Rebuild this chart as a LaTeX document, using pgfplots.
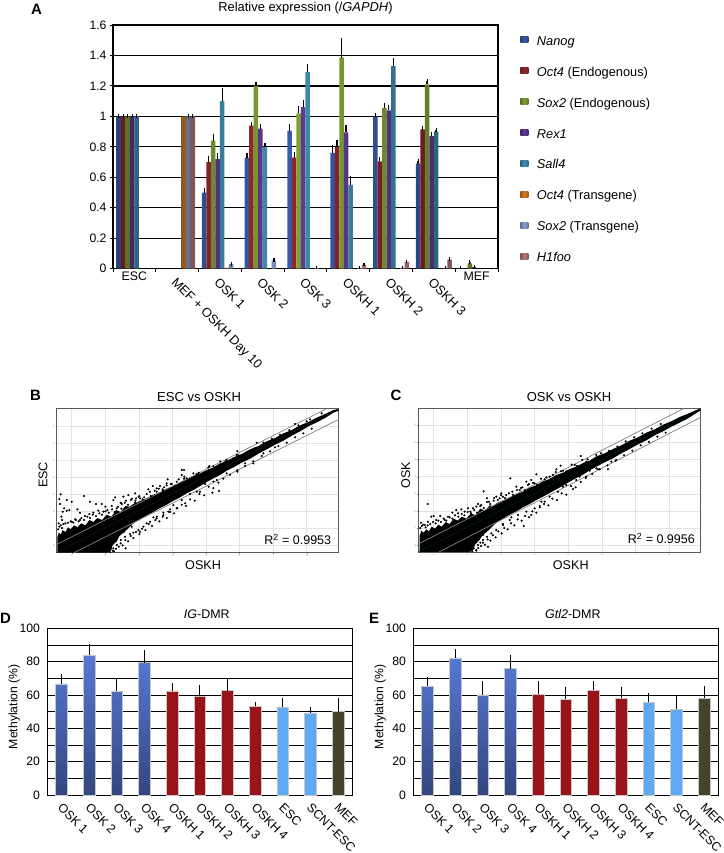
\documentclass[border=0pt]{standalone}
\usepackage{fontspec}
\setmainfont{Liberation Sans}
\usepackage{pgfplots}
\usepackage{pgfplotstable}
\pgfplotsset{compat=1.18}

\definecolor{cNanog}{HTML}{3A5BA8}
\definecolor{cOctE}{HTML}{96282C}
\definecolor{cSoxE}{HTML}{7FA233}
\definecolor{cRex}{HTML}{5E3A92}
\definecolor{cSall}{HTML}{3F8FB2}
\definecolor{cOctT}{HTML}{D87A22}
\definecolor{cSoxT}{HTML}{8A9FD2}
\definecolor{cH}{HTML}{B77C7C}
\definecolor{cOSKtop}{HTML}{5778D4}
\definecolor{cOSKbot}{HTML}{33467F}
\definecolor{cOSKH}{HTML}{991318}
\definecolor{cESC}{HTML}{5FAAF5}
\definecolor{cMEF}{HTML}{45442A}

\newcommand{\fs}[1]{\fontsize{#1}{#1}\selectfont}

% panel A, one row per sample, e* = upper error
\pgfplotstableread{
x Nanog eNanog OctE eOctE SoxE eSoxE Rex eRex Sall eSall OctT SoxT eSoxT H eH
0 1     0      1    0     1    0     1   0    1    0     nan  nan  0     nan 0
1 nan   0      nan  0     nan  0     nan 0    nan  0     1    1    0     1   0
2 0.50  0.02   0.70 0.025 0.84 0.035 0.72 0.025 1.10 0.075 0.005 0.03 0.002 nan 0
3 0.73  0.015  0.94 0.01  1.20 0.01  0.92 0.015 0.80 0.015 nan 0.055 0.002 nan 0
4 0.905 0.03   0.73 0.025 1.02 0.035 1.06 0.035 1.29 0.04 nan 0.005 0 nan 0
5 0.76  0.04   0.80 0.03  1.385 0.115 0.895 0.035 0.55 0.045 nan 0.005 0 0.025 0.002
6 1.00  0.01   0.705 0.015 1.055 0.02 1.04 0.025 1.33 0.04 nan 0.005 0 0.045 0.002
7 0.69  0.02   0.915 0.01 1.21 0.02 0.87 0.015 0.90 0.01 nan 0.005 0 0.06 0.002
8 0.003 0.003  nan  0     0.035 0.01 0.01 0.003 nan 0 nan nan 0 nan 0
}\exprtable

\pgfplotstableread{
x y e
0 66.6 5.2
1 83.8 5.6
2 62.2 7.2
3 79.4 6.6
}\igosk
\pgfplotstableread{
x y e
4 62.4 3.8
5 59.2 6.0
6 62.6 6.0
7 53.2 1.8
}\igoskh
\pgfplotstableread{
x y e
8 52.8 4.2
9 49.2 2.8
}\igesc
\pgfplotstableread{
x y e
10 50.0 7.4
}\igmef
\pgfplotstableread{
x y e
0 65.2 4.6
1 82.2 4.6
2 60.0 7.6
3 75.8 7.2
}\gtosk
\pgfplotstableread{
x y e
4 60.4 7.2
5 57.4 6.4
6 62.8 4.8
7 58.0 5.8
}\gtoskh
\pgfplotstableread{
x y e
8 55.6 4.4
9 51.4 7.0
}\gtesc
\pgfplotstableread{
x y e
10 58.2 6.2
}\gtmef

\pgfplotsset{
  every axis title shift=0pt,
  squarelegend/.style={legend image code/.code={\path[##1] (0pt,-0.5pt) rectangle (8pt,5.5pt);\path (16.5pt,0pt);}},
  exprbar/.style={squarelegend, draw=none, left color=#1!70!black, right color=#1!70!black, middle color=#1,
    error bars/.cd, y dir=plus, y explicit, error mark=-,
    error bar style={black, line width=1.3pt},
    error mark options={black, line width=1.1pt, mark size=1.9pt}},
  methbar/.style={ybar, bar width=11.7pt, bar shift=0pt, draw=gray!45, line width=.5pt, #1,
    error bars/.cd, y dir=plus, y explicit, error mark=-,
    error bar style={black, line width=.9pt},
    error mark options={black, line width=.8pt, mark size=1.5pt}},
  methaxis/.style={
    scale only axis, width=304.3pt, height=166.7pt,
    xmin=-0.5, xmax=10.5, ymin=0, ymax=100,
    xtick={0,...,10},
    xticklabels={OSK 1,OSK 2,OSK 3,OSK 4,OSKH 1,OSKH 2,OSKH 3,OSKH 4,ESC,SCNT-ESC,MEF},
    ytick={0,10,...,100},
    yticklabels={0,,20,,40,,60,,80,,100},
    ymajorgrids, grid style={black, line width=.9pt},
    axis line style={black, line width=.9pt},
    tick pos=left, tick align=outside,
    major x tick style={draw=none}, major y tick style={draw=none},
    tick label style={font=\fs{12.2}},
    xticklabel style={font=\fs{12.4}, rotate=-45, anchor=north west, yshift=2.5pt},
    ylabel={Methylation (\%)}, label style={font=\fs{12.2}},
    ylabel style={at={(-0.11,0.53)}, anchor=center},
  },
  scatteraxis/.style={
    scale only axis, y dir=reverse,
    grid=major, grid style={gray!22, line width=.7pt},
    axis line style={black!65, line width=.9pt},
    tick pos=left, tick align=outside, major tick length=1pt,
    tick style={gray},
    xticklabels={1,...,8}, yticklabels={1,...,8},
    tick label style={font=\fs{2.5}, text=gray, inner sep=1pt},
    label style={font=\fs{12.6}},
    title style={font=\fs{13}},
  },
}

\begin{document}
\begin{tikzpicture}[x=1pt,y=1pt]
\path[use as bounding box] (0,0) rectangle (723,853);

\node[font=\fs{15}\bfseries, anchor=center] at (36.5,844) {A};
\node[font=\fs{15}\bfseries, anchor=center] at (35.5,458) {B};
\node[font=\fs{15}\bfseries, anchor=center] at (396,458) {C};
\node[font=\fs{15}\bfseries, anchor=center] at (5.5,234.5) {D};
\node[font=\fs{15}\bfseries, anchor=center] at (374,234.5) {E};

% A
\begin{axis}[
  at={(113pt,584.3pt)}, anchor=south west,
  scale only axis, width=385pt, height=243.7pt,
  xmin=-0.5, xmax=8.5, ymin=0, ymax=1.6,
  ybar=0pt, bar width=4.5pt,
  xtick={1,...,7},
  xticklabels={MEF + OSKH Day 10,OSK 1,OSK 2,OSK 3,OSKH 1,OSKH 2,OSKH 3},
  extra x ticks={0,8},
  extra x tick labels={ESC,MEF},
  extra x tick style={xticklabel style={rotate=45, anchor=north, font=\fs{12.4}}, major tick length=0pt},
  minor xtick={-0.5,0.5,...,8.5},
  ytick={0,0.2,...,1.6},
  yticklabels={0,0.2,0.4,0.6,0.8,1,1.2,1.4,1.6},
  ymajorgrids, grid style={black, line width=1.2pt},
  axis line style={black, line width=1.1pt},
  tick pos=left, tick align=outside,
  major tick length=3pt, minor tick length=3pt,
  tick style={black, line width=.9pt},
  major x tick style={draw=none},
  tick label style={font=\fs{12.2}},
  xticklabel style={font=\fs{12.8}, rotate=-45, anchor=north west},
  title={Relative expression (/\textit{GAPDH})},
  title style={font=\fs{12.9}, at={(0.5,1.07)}, anchor=center},
  legend style={draw=none, fill=none, at={(1.05,0.9604)}, anchor=north west,
    font=\fs{12.8}, row sep=19.9pt,
    nodes={inner sep=0pt, text height=8.5pt, text depth=2.5pt}},
  legend cell align=left,
]
\addplot[exprbar=cNanog] table[x=x,y=Nanog,y error plus=eNanog] {\exprtable};
\addplot[exprbar=cOctE] table[x=x,y=OctE,y error plus=eOctE] {\exprtable};
\addplot[exprbar=cSoxE] table[x=x,y=SoxE,y error plus=eSoxE] {\exprtable};
\addplot[exprbar=cRex] table[x=x,y=Rex,y error plus=eRex] {\exprtable};
\addplot[exprbar=cSall] table[x=x,y=Sall,y error plus=eSall] {\exprtable};
\addplot[exprbar=cOctT] table[x=x,y=OctT] {\exprtable};
\addplot[exprbar=cSoxT] table[x=x,y=SoxT,y error plus=eSoxT] {\exprtable};
\addplot[exprbar=cH] table[x=x,y=H,y error plus=eH] {\exprtable};
\legend{\textit{Nanog},\textit{Oct4} (Endogenous),\textit{Sox2} (Endogenous),\textit{Rex1},\textit{Sall4},\textit{Oct4} (Transgene),\textit{Sox2} (Transgene),\textit{H1foo}}
\end{axis}

% B
\begin{axis}[
  scatteraxis,
  at={(56.7pt,300.3pt)}, anchor=south west, width=282pt, height=144pt,
  xmin=170, xmax=1016, ymin=86, ymax=518,
  xtick={215,316,417,518,618,718,820,920},
  ytick={140,191,242,293,344,395,446,497},
  title={ESC vs OSKH}, title style={at={(0.505,1.081)}, anchor=center},
  xlabel={OSKH}, xlabel style={at={(0.519,-0.087)}, anchor=center},
  ylabel={ESC}, ylabel style={at={(-0.0486,0.54)}, anchor=center},
]
\addplot[fill=black, draw=none] coordinates {
(172,518)(172,472)(176,458)(182,464)(188,450)(196,456)(204,442)(212,448)(222,436)(232,442)(244,430)(256,436)(268,420)(280,426)(292,414)(306,420)(320,404)(334,410)(348,390)(362,396)(376,378)(388,380)(400,372)(420,363)(440,355)(460,344)(480,337)(500,326)(520,318)(540,307)(560,299)(580,288)(600,280)(620,270)(640,262)(660,250)(680,243)(700,232)(725,222)(750,208)(775,198)(800,184)(825,174)(850,160)(875,150)(900,136)(925,126)(950,113)(975,102)(1000,90)(1016,87)
(1016,92)(1000,98)(975,114)(950,127)(925,139)(900,154)(875,167)(850,182)(825,194)(800,208)(775,221)(750,236)(725,248)(700,262)(680,272)(660,285)(640,295)(620,306)(600,318)(580,330)(560,340)(540,352)(520,362)(500,374)(480,384)(460,396)(440,406)(420,418)(400,430)(385,445)(370,458)(358,468)(350,484)(338,495)(334,510)(322,518)
} --cycle;
\addplot[only marks, mark=*, mark size=.85pt, black] coordinates {
(182,343)(178,357)(180,372)(200,360)(215,365)(252,348)(192,385)(188,395)(184,410)(186,420)(200,392)(208,390)(232,388)(240,398)(270,365)(288,372)(305,372)(316,380)(340,360)(345,352)(362,368)(370,350)(385,345)(405,340)(408,355)(420,355)(445,328)(458,318)(470,325)(480,318)(492,322)(503,298)(500,310)(545,270)(552,270)(545,285)(553,290)(712,213)(770,188)(885,132)(930,118)(965,100)(637,338)(657,333)(490,398)(470,410)(440,430)(420,455)(377,505)(460,412)(505,395)(530,385)(555,370)(600,335)(650,300)(712,275)(760,250)(825,202)
(215,425)(225,418)(240,420)(255,408)(268,402)(280,398)(295,392)(310,395)(322,390)(335,378)(350,385)(365,372)(378,362)(392,360)(405,368)(418,348)(432,352)(450,335)(470,335)(488,328)(515,312)(530,305)(560,295)(590,282)(625,262)(640,258)(680,240)(710,225)
(350,495)(362,480)(375,470)(390,462)(400,458)(415,450)(430,440)(450,425)(470,415)(490,405)(510,388)(520,375)(545,360)(570,342)(590,335)(615,312)(640,305)(680,280)(735,250)(790,220)(340,505)(355,465)(372,455)(395,440)(345,480)(328,500)(338,512)
(174,448)(178,440)(176,430)(182,436)(190,432)(186,444)(196,430)(204,428)(212,424)(220,428)(228,420)(236,424)(244,414)(252,420)(262,410)(270,414)(278,404)(288,408)(298,400)(306,404)(316,394)(326,398)(336,388)(344,396)(354,380)(364,386)(374,368)(384,374)(396,356)(406,362)(416,350)(428,358)(440,342)(452,348)(464,332)(476,326)(488,332)(500,316)(512,312)(524,318)(536,298)(552,296)(566,300)(580,280)(596,278)(612,278)(628,258)(644,264)(660,244)(676,244)(694,246)(716,226)(740,216)(765,204)(790,188)(815,176)(840,164)(868,150)(895,136)(920,124)
(330,516)(342,514)(348,506)(356,500)(362,490)(368,496)(376,480)(384,484)(392,468)(400,474)(408,456)(418,462)(426,446)(436,450)(446,432)(456,438)(466,420)(478,424)(488,410)(500,414)(510,396)(522,400)(532,384)(545,374)(558,378)(570,358)(584,362)(598,342)(612,346)(626,320)(640,324)(655,308)(670,296)(690,284)(712,270)(735,258)(760,244)(785,228)(810,214)(835,198)(860,188)(885,172)(910,160)(935,146)
};
\addplot[black!50, line width=.7pt] coordinates {(170,493)(980,86)};
\addplot[black!50, line width=.7pt] coordinates {(222,518)(1016,118)};
\addplot[green!20!black, line width=.3pt] coordinates {(170,518)(1016,86)};
\node[font=\fs{12.5}] at (axis cs:893,478) {R\textsuperscript{2} = 0.9953};
\end{axis}

% C
\begin{axis}[
  scatteraxis,
  at={(418.3pt,301pt)}, anchor=south west, width=282.4pt, height=144pt,
  xmin=166, xmax=1013, ymin=84, ymax=516,
  xtick={212,313,414,515,616,717,818,919},
  ytick={135,187,238,290,342,394,445,496},
  title={OSK vs OSKH}, title style={at={(0.534,1.076)}, anchor=center},
  xlabel={OSKH}, xlabel style={at={(0.54,-0.09)}, anchor=center},
  ylabel={OSK}, ylabel style={at={(-0.044,0.535)}, anchor=center},
]
\addplot[fill=black, draw=none] coordinates {
(170,516)(170,468)(175,452)(182,458)(190,448)(198,454)(206,440)(216,446)(226,434)(236,440)(248,426)(260,432)(272,416)(284,422)(296,410)(310,416)(324,400)(338,406)(352,386)(366,392)(380,376)(390,378)(400,370)(420,361)(440,353)(460,342)(480,335)(500,323)(520,316)(540,304)(560,297)(580,285)(600,278)(620,267)(640,260)(660,249)(680,242)(700,229)(725,220)(750,207)(775,196)(800,182)(825,172)(850,158)(875,148)(900,134)(925,124)(950,111)(975,101)(1000,90)(1013,85)
(1013,91)(1000,99)(975,115)(950,128)(925,140)(900,154)(875,166)(850,181)(825,193)(800,207)(775,220)(750,235)(725,247)(700,260)(680,271)(660,284)(640,294)(620,305)(600,317)(580,328)(560,339)(540,350)(520,360)(500,372)(480,382)(460,394)(440,404)(420,416)(400,428)(385,443)(370,457)(358,467)(348,482)(336,494)(332,508)(320,516)
} --cycle;
\addplot[only marks, mark=*, mark size=.85pt, black] coordinates {
(194,372)(205,410)(212,408)(232,408)(268,398)(280,390)(295,388)(315,385)(330,385)(345,372)(362,334)(372,355)(400,350)(415,340)(420,350)(442,295)(460,320)(478,322)(490,305)(505,300)(520,283)(560,290)(580,268)(593,257)(653,228)(735,268)(482,438)(375,500)(332,505)(505,405)(440,420)(420,432)(630,327)(600,320)(545,365)(530,378)(700,265)(760,240)(680,272)(650,290)
(185,435)(195,425)(220,420)(245,420)(255,410)(285,400)(305,395)(322,395)(340,380)(355,375)(378,365)(392,362)(410,355)(430,345)(448,335)(470,330)(495,315)(515,310)(545,298)(570,285)(600,272)(635,255)(670,245)(700,225)
(345,495)(360,480)(372,470)(385,460)(400,450)(420,435)(445,412)(465,405)(490,395)(515,385)(535,365)(560,350)(585,335)(610,315)(640,300)(670,290)(705,268)(745,245)(360,465)(340,510)(328,508)(352,488)
(172,444)(176,438)(174,428)(180,434)(188,442)(194,436)(202,432)(210,426)(218,430)(226,422)(234,426)(242,416)(250,422)(260,412)(268,416)(276,406)(286,410)(296,402)(304,406)(314,396)(324,400)(334,390)(342,398)(352,378)(362,384)(372,366)(382,372)(394,354)(404,360)(414,346)(426,354)(438,340)(450,344)(462,330)(474,324)(486,330)(498,312)(510,308)(522,314)(534,296)(550,292)(564,296)(578,276)(594,274)(610,274)(626,254)(642,258)(658,240)(674,238)(692,240)(714,220)(738,212)(763,200)(788,184)(813,172)(838,160)(866,146)(893,132)
(328,514)(340,512)(346,504)(354,498)(360,488)(366,494)(374,478)(382,482)(390,466)(398,472)(406,454)(416,460)(424,444)(434,448)(444,430)(454,436)(464,418)(476,422)(486,408)(498,412)(508,394)(520,398)(530,382)(543,372)(556,376)(568,356)(582,360)(596,340)(610,344)(624,318)(638,322)(653,306)(668,294)(688,282)(710,268)(733,256)(758,242)(783,226)(808,212)(833,196)(858,186)(883,170)(908,158)
};
\addplot[black!50, line width=.7pt] coordinates {(170,490)(965,84)};
\addplot[black!50, line width=.7pt] coordinates {(228,516)(1013,112)};
\addplot[green!20!black, line width=.3pt] coordinates {(166,516)(1013,88)};
\node[font=\fs{12.5}] at (axis cs:895,476) {R\textsuperscript{2} = 0.9956};
\end{axis}

% D
\begin{axis}[
  methaxis,
  at={(47.7pt,58pt)}, anchor=south west,
  title={\textit{IG}-DMR}, title style={font=\fs{12.5}, at={(0.523,1.086)}, anchor=center},
]
\addplot[methbar={top color=cOSKtop, bottom color=cOSKbot}] table[x=x,y=y,y error plus=e] {\igosk};
\addplot[methbar={fill=cOSKH}] table[x=x,y=y,y error plus=e] {\igoskh};
\addplot[methbar={fill=cESC}] table[x=x,y=y,y error plus=e] {\igesc};
\addplot[methbar={fill=cMEF}] table[x=x,y=y,y error plus=e] {\igmef};
\end{axis}

% E
\begin{axis}[
  methaxis,
  at={(413.7pt,58pt)}, anchor=south west,
  title={\textit{Gtl2}-DMR}, title style={font=\fs{12.5}, at={(0.523,1.086)}, anchor=center},
]
\addplot[methbar={top color=cOSKtop, bottom color=cOSKbot}] table[x=x,y=y,y error plus=e] {\gtosk};
\addplot[methbar={fill=cOSKH}] table[x=x,y=y,y error plus=e] {\gtoskh};
\addplot[methbar={fill=cESC}] table[x=x,y=y,y error plus=e] {\gtesc};
\addplot[methbar={fill=cMEF}] table[x=x,y=y,y error plus=e] {\gtmef};
\end{axis}
\end{tikzpicture}
\end{document}
